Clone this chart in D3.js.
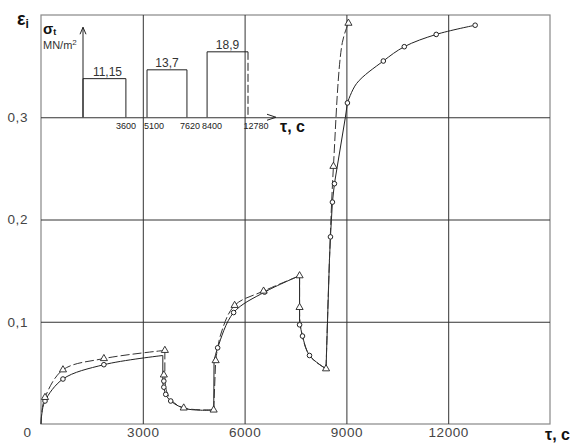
<!DOCTYPE html>
<html><head><meta charset="utf-8">
<script src="https://cdn.jsdelivr.net/npm/d3@7/dist/d3.min.js"></script>
<style>
body{margin:0;background:#fff;}
text{font-family:"Liberation Sans",Arial,sans-serif;}
</style></head>
<body><svg id="c" width="572" height="443"></svg>
<script>
// ---------- data ----------
const xTicks = [3000, 6000, 9000, 12000];
const yTicks = [0.1, 0.2, 0.3];

// solid curve (circles), pieces between load changes: [time s, strain]
const solidCreep1   = [[0,0],[25,0.010],[118,0.0225],[647,0.044],[1853,0.058],[3590,0.067]];
const solidUnload1  = [[3590,0.067],[3590,0.040]];
const solidRecov1   = [[3590,0.040],[3676,0.029],[3823,0.0225],[4200,0.0155],[4700,0.0135],[5090,0.0137]];
const solidLoad2    = [[5090,0.0137],[5100,0.062]];
const solidCreep2   = [[5100,0.062],[5206,0.0745],[5676,0.109],[6588,0.129],[7620,0.145]];
const solidUnload2  = [[7620,0.145],[7620,0.100]];
const solidRecov2   = [[7620,0.100],[7706,0.086],[7912,0.067],[8400,0.054]];
const solidLoad3    = [[8400,0.054],[8500,0.160],[8530,0.183],[8588,0.217],[8647,0.235],[8970,0.300],[9030,0.314]];
const solidCreep3   = [[9030,0.314],[9300,0.333],[10088,0.355],[10706,0.369],[11647,0.381],[12794,0.390]];

// dashed curve (triangles)
const dashCreep1    = [[0,0],[25,0.012],[118,0.026],[647,0.053],[1853,0.064],[3650,0.072]];
const dashUnload1   = [[3650,0.072],[3650,0.047]];
const dashRecov1    = [[3650,0.047],[3700,0.032],[3850,0.023],[4206,0.0157],[5090,0.0137]];
const dashLoad2     = [[5090,0.0137],[5147,0.062]];
const dashCreep2    = [[5147,0.062],[5300,0.088],[5706,0.116],[6559,0.130],[7620,0.145]];
const dashUnload2   = [[7620,0.145],[7620,0.114]];
const dashRecov2    = [[7620,0.114],[7650,0.095],[7912,0.067],[8400,0.054]];
const dashLoad3     = [[8400,0.054],[8500,0.160],[8618,0.252],[8880,0.373],[9060,0.392]];

const circlePts = [[118,0.0225],[647,0.044],[1853,0.058],[3620,0.042],[3620,0.036],[3676,0.029],[3823,0.0225],
  [5206,0.0745],[5676,0.109],[6588,0.129],[7620,0.097],[7706,0.086],[7912,0.067],
  [8530,0.183],[8588,0.217],[8647,0.235],[9030,0.314],[10088,0.355],[10706,0.369],[11647,0.381],[12794,0.390]];
const trianglePts = [[118,0.026],[647,0.053],[1853,0.064],[3650,0.072],[3620,0.048],[4206,0.0157],[5088,0.0137],
  [5147,0.062],[5706,0.116],[6559,0.130],[7620,0.145],[7620,0.114],[8400,0.054],[8618,0.252],[9060,0.392]];

// inset: stress program
const stressLevels = [11.15, 13.7, 18.9];
const stressLabels = ["11,15", "13,7", "18,9"];
const stressStart  = [0, 5100, 8400];
const stressEnd    = [3600, 7620, 12780];
const insetTicks   = [3600, 5100, 7620, 8400, 12780];
const insetTickLabels = ["3600", "5100", "7620", "8400", "12780"];

// ---------- layout ----------
const svg = d3.select("#c");
const m = {l:41, t:15, r:22, b:19};
const W = 572, H = 443;
const x = d3.scaleLinear().domain([0,15000]).range([m.l, W-m.r]);
const y = d3.scaleLinear().domain([0,0.4]).range([H-m.b, m.t]);
const fmt = d => d3.format(".1f")(d).replace(".", ",");

// frame
svg.append("rect").attr("x",x(0)).attr("y",y(0.4)).attr("width",x(15000)-x(0)).attr("height",y(0)-y(0.4))
  .attr("fill","none").attr("stroke","#888").attr("stroke-width",1.2);

// grid
const gx = svg.append("g").attr("transform",`translate(0,${y(0)})`)
  .call(d3.axisBottom(x).tickValues(xTicks).tickSize(-(y(0)-y(0.4))).tickPadding(3).tickFormat(d3.format("d")));
const gy = svg.append("g").attr("transform",`translate(${x(0)},0)`)
  .call(d3.axisLeft(y).tickValues(yTicks).tickSize(-(x(15000)-x(0))).tickPadding(13).tickFormat(fmt));
[gx,gy].forEach(g=>{
  g.select(".domain").remove();
  g.selectAll(".tick line").attr("stroke","#333").attr("stroke-width",1);
  g.selectAll(".tick text").attr("fill","#444").style("font-size","13.5px").style("letter-spacing","0.6px");
});
svg.append("text").attr("x",x(0)-10).attr("y",y(0)+13).attr("text-anchor","end")
  .attr("fill","#444").style("font-size","13.5px").text("0");

// axis titles
const et = svg.append("text").attr("x",17).attr("y",25).attr("fill","#111").style("font-size","18px").style("font-weight","bold");
et.append("tspan").text("ε");
et.append("tspan").attr("dy",3).style("font-size","12px").text("i");
svg.append("text").attr("x",570).attr("y",440).attr("text-anchor","end").attr("fill","#111")
  .style("font-size","16px").style("font-weight","bold").text("τ, c");

// curves
const smooth = d3.line().x(d=>x(d[0])).y(d=>y(d[1])).curve(d3.curveCatmullRom.alpha(0.5));
const straight = d3.line().x(d=>x(d[0])).y(d=>y(d[1]));
const solidPieces = [[solidCreep1,smooth],[solidUnload1,straight],[solidRecov1,smooth],[solidLoad2,straight],
  [solidCreep2,smooth],[solidUnload2,straight],[solidRecov2,smooth],[solidLoad3,straight],[solidCreep3,smooth]];
const dashPieces = [[dashCreep1,smooth],[dashUnload1,straight],[dashRecov1,smooth],[dashLoad2,straight],
  [dashCreep2,smooth],[dashUnload2,straight],[dashRecov2,smooth],[dashLoad3,smooth]];
solidPieces.forEach(([d,g])=>svg.append("path").attr("d",g(d)).attr("fill","none").attr("stroke","#222").attr("stroke-width",1));
dashPieces.forEach(([d,g])=>svg.append("path").attr("d",g(d)).attr("fill","none").attr("stroke","#333")
  .attr("stroke-width",1).attr("stroke-dasharray","9,3"));

svg.append("g").selectAll("circle").data(circlePts).join("circle")
  .attr("cx",d=>x(d[0])).attr("cy",d=>y(d[1])).attr("r",2.3)
  .attr("fill","#fff").attr("stroke","#222").attr("stroke-width",1);
svg.append("g").selectAll("path").data(trianglePts).join("path")
  .attr("d",d3.symbol(d3.symbolTriangle).size(22))
  .attr("transform",d=>`translate(${x(d[0])},${y(d[1])})`)
  .attr("fill","#fff").attr("stroke","#222").attr("stroke-width",0.9);

// ---------- inset ----------
const iLeft = 83, iWidth = 165;
const iBase = y(0.3);
const insetFrac = [0, 0.26, 0.388, 0.63, 0.752, 1];
const insetLabelShift = [0, 7, 3, 5, 8];
const ix = d3.scaleLinear().domain([0, ...insetTicks]).range(insetFrac.map(f=>iLeft+f*iWidth));
const iy = d3.scaleLinear().domain([0,26]).range([iBase, iBase-90]);
const ink = "#222";
// vertical axis with arrow
svg.append("line").attr("x1",ix(0)).attr("x2",ix(0)).attr("y1",iy(0)).attr("y2",iy(26)).attr("stroke",ink);
svg.append("path").attr("d",`M${ix(0)-3},${iy(26)+7}L${ix(0)},${iy(26)}L${ix(0)+3},${iy(26)+7}`).attr("fill","none").attr("stroke",ink);
// horizontal arrow head
const ax = ix(12780)+28;
svg.append("path").attr("d",`M${ax-9},${iBase-3}L${ax},${iBase}L${ax-9},${iBase+3}`).attr("fill","none").attr("stroke",ink);
// bars
stressLevels.forEach((s,i)=>{
  const x0 = ix(stressStart[i]), x1 = ix(stressEnd[i]);
  const solidEdges = i<2 ? `M${x0},${iy(0)}V${iy(s)}H${x1}V${iy(0)}` : `M${x0},${iy(0)}V${iy(s)}H${x1}`;
  svg.append("path").attr("d",solidEdges).attr("fill","none").attr("stroke",ink);
  if(i===2) svg.append("line").attr("x1",x1).attr("x2",x1).attr("y1",iy(s)).attr("y2",iy(0))
    .attr("stroke",ink).attr("stroke-dasharray","8,3");
  svg.append("text").attr("x",(x0+x1)/2 + (i===0?3:0)).attr("y",iy(s)-3).attr("text-anchor","middle")
    .attr("fill","#333").style("font-size","12px").text(stressLabels[i]);
});
insetTicks.forEach((t,i)=>{
  svg.append("text").attr("x",ix(t)+insetLabelShift[i]).attr("y",iBase+12).attr("text-anchor","middle")
    .attr("fill","#222").style("font-size","9px").text(insetTickLabels[i]);
});
const st = svg.append("text").attr("x",43).attr("y",34).attr("fill","#111").style("font-size","15px").style("font-weight","bold");
st.append("tspan").text("σ");
st.append("tspan").attr("dy",1).style("font-size","9px").text("t");
const mn = svg.append("text").attr("x",43).attr("y",49).attr("fill","#333").style("font-size","11px");
mn.append("tspan").text("MN/m");
mn.append("tspan").attr("dy",-4).style("font-size","8px").text("2");
svg.append("text").attr("x",280).attr("y",132).attr("fill","#111").style("font-size","16px").style("font-weight","bold").text("τ, c");
</script></body></html>
